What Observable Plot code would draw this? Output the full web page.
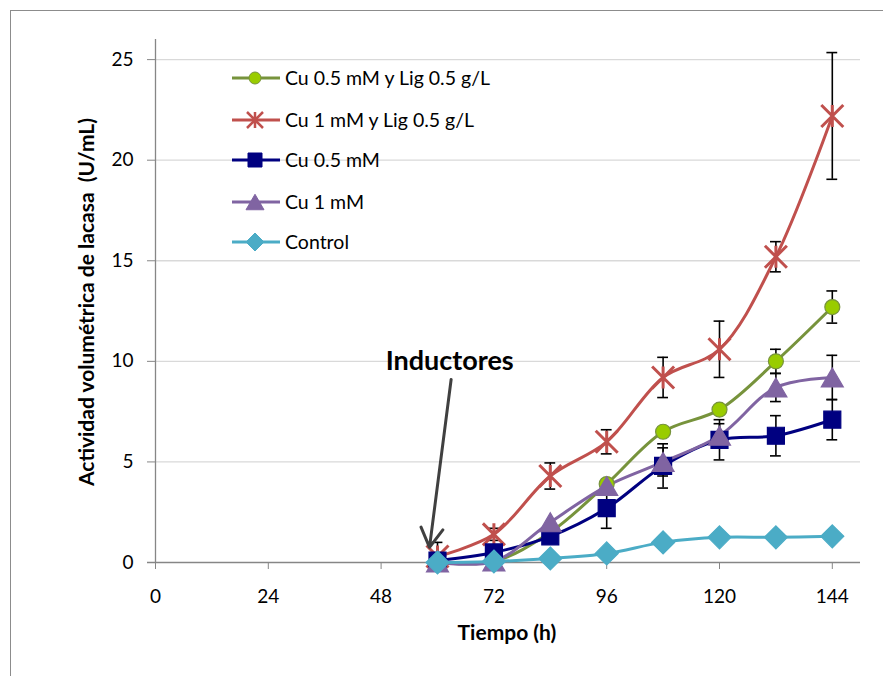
<!DOCTYPE html>
<html><head><meta charset="utf-8">
<script src="https://cdn.jsdelivr.net/npm/d3@7"></script>
<script src="https://cdn.jsdelivr.net/npm/@observablehq/plot@0.6"></script>
<style>
html,body{margin:0;padding:0;background:#fff;}
body{width:883px;height:676px;overflow:hidden;font-family:Lato,"Open Sans",sans-serif;}
#wrap{position:relative;width:883px;height:676px;}
#border{position:absolute;left:10px;top:10px;width:900px;height:700px;border:1px solid #8c8c8c;}
#chart{position:absolute;left:0;top:0;}
#overlay{position:absolute;left:0;top:0;pointer-events:none;}
</style></head><body>
<div id="wrap"><div id="border"></div><div id="chart"></div><svg id="overlay" width="883" height="676"></svg></div>
<script>
// ---- data ----
const hours = [60, 72, 84, 96, 108, 120, 132, 144];
const seriesNames = ["Cu 0.5 mM y Lig 0.5 g/L", "Cu 1 mM y Lig 0.5 g/L", "Cu 0.5 mM", "Cu 1 mM", "Control"];
const cu05Lig = [0.0, 0.05, 1.5, 3.9, 6.5, 7.6, 10.0, 12.7];
const cu05LigErr = [0, 0, 0, 0, 0, 0, 0.6, 0.8];
const cu1Lig = [0.3, 1.4, 4.3, 6.0, 9.2, 10.6, 15.2, 22.2];
const cu1LigErr = [0.7, 0.3, 0.65, 0.6, 1.0, 1.4, 0.75, 3.15];
const cu05 = [0.1, 0.5, 1.3, 2.7, 4.8, 6.1, 6.3, 7.1];
const cu05Err = [0, 0, 0, 1.0, 1.1, 1.0, 1.0, 1.0];
const cu1 = [0.0, 0.05, 2.0, 3.8, 5.0, 6.3, 8.7, 9.2];
const cu1Err = [0, 0, 0, 0, 0.7, 0.6, 0.7, 1.1];
const control = [0.0, 0.05, 0.2, 0.45, 1.0, 1.25, 1.25, 1.3];
const xTicks = [0, 24, 48, 72, 96, 120, 144];
const yTicks = [0, 5, 10, 15, 20, 25];
const annotation = {label: "Inductores", tx: 62.6, ty: 10.0, x1: 62.9, y1: 9.1, x2: 58.3, y2: 0.75};

// ---- styles ----
const lineColors = ["#77933C", "#C0504D", "#000080", "#8064A2", "#4BACC6"];
const markerFill = ["#99CC00", "none", "#000080", "#8064A2", "#4BACC6"];
const markerStroke = ["#77933C", "#C0504D", "#000080", "#8064A2", "#4BACC6"];
const markerR = [7.5, 11, 8.5, 11, 11.5];

const sq = {draw(c, s){const r = Math.sqrt(s/Math.PI); c.rect(-r,-r,2*r,2*r);}};
const tri = {draw(c, s){const r = Math.sqrt(s/Math.PI); const h = r*0.86; c.moveTo(0,-h); c.lineTo(r,h); c.lineTo(-r,h); c.closePath();}};
const dia = {draw(c, s){const r = Math.sqrt(s/Math.PI); c.moveTo(0,-r); c.lineTo(r,0); c.lineTo(0,r); c.lineTo(-r,0); c.closePath();}};
const star = {draw(c, s){const r = Math.sqrt(s/Math.PI); c.moveTo(-r,-r); c.lineTo(r,r); c.moveTo(r,-r); c.lineTo(-r,r); c.moveTo(0,-r); c.lineTo(0,r);}};
const symbols = ["circle", star, sq, tri, dia];

const values = [cu05Lig, cu1Lig, cu05, cu1, control];
const errs = [cu05LigErr, cu1LigErr, cu05Err, cu1Err, null];

const marks = [
  Plot.gridY(yTicks.filter(d => d > 0), {stroke: "#d9d9d9", strokeOpacity: 1, strokeWidth: 1.3}),
  Plot.ruleX([0], {stroke: "#868686", strokeWidth: 1.3}),
  Plot.ruleY([0], {x1: -1.7, x2: 150, stroke: "#868686", strokeWidth: 1.3}),
  Plot.axisY({ticks: yTicks, tickSize: 8, tickPadding: 14, fontSize: 19, stroke: "#868686", color: "#000", label: null, tickFormat: d3.format("d")}),
  Plot.axisX({ticks: xTicks, tickSize: 7, tickPadding: 20, fontSize: 19, stroke: "#868686", color: "#000", label: null, tickFormat: d3.format("d")}),
];

values.forEach((vals, i) => {
  const data = hours.map((h, j) => ({h, v: vals[j], e: errs[i] ? errs[i][j] : 0}));
  marks.push(Plot.line(data, {x: "h", y: "v", stroke: lineColors[i], strokeWidth: 3, curve: "catmull-rom"}));
});
values.forEach((vals, i) => {
  const data = hours.map((h, j) => ({h, v: vals[j], e: errs[i] ? errs[i][j] : 0})).filter(d => d.e > 0);
  marks.push(Plot.ruleX(data, {x: "h", y1: d => d.v - d.e, y2: d => d.v + d.e, stroke: "#000", strokeWidth: 1.6}));
  marks.push(Plot.ruleY(data, {y: d => d.v - d.e, x1: d => d.h - 1.15, x2: d => d.h + 1.15, stroke: "#000", strokeWidth: 1.6}));
  marks.push(Plot.ruleY(data, {y: d => d.v + d.e, x1: d => d.h - 1.15, x2: d => d.h + 1.15, stroke: "#000", strokeWidth: 1.6}));
});
values.forEach((vals, i) => {
  const data = hours.map((h, j) => ({h, v: vals[j]}));
  marks.push(Plot.dot(data, {x: "h", y: "v", symbol: () => symbols[i], r: markerR[i], fill: markerFill[i], stroke: markerStroke[i], strokeWidth: i === 1 ? 3 : 1.2}));
});
marks.push(Plot.arrow([annotation], {x1: "x1", y1: "y1", x2: "x2", y2: "y2", stroke: "#404040", strokeWidth: 3, headLength: 11, bend: 0}));
marks.push(Plot.text([annotation], {x: "tx", y: "ty", text: "label", fontSize: 27, fontWeight: "bold", fill: "#000"}));

const chart = Plot.plot({
  width: 883, height: 676,
  marginLeft: 155, marginRight: 23, marginTop: 39, marginBottom: 114,
  x: {domain: [0, 150]},
  y: {domain: [0, 26]},
  style: {fontFamily: "Lato, 'Open Sans', sans-serif", background: "transparent", overflow: "visible"},
  marks
});
document.getElementById("chart").appendChild(chart);

// ---- overlay: legend and axis titles ----
const ov = d3.select("#overlay");
const legY = [78, 120, 160, 202, 242];
const legSymSize = [6, 8, 7, 9, 9];
seriesNames.forEach((name, i) => {
  const g = ov.append("g").attr("transform", `translate(0,${legY[i]})`);
  g.append("line").attr("x1", 232).attr("x2", 280).attr("y1", 0).attr("y2", 0).attr("stroke", lineColors[i]).attr("stroke-width", 3);
  const symType = symbols[i] === "circle" ? d3.symbolCircle : symbols[i];
  g.append("path").attr("transform", "translate(255,0)")
    .attr("d", d3.symbol(symType, Math.PI * legSymSize[i] * legSymSize[i])())
    .attr("fill", markerFill[i]).attr("stroke", markerStroke[i]).attr("stroke-width", i === 1 ? 2.5 : 1);
  g.append("text").attr("x", 285).attr("y", 0).attr("dy", "0.35em").attr("font-size", 19.5)
    .attr("font-family", "Lato, 'Open Sans', sans-serif").attr("fill", "#000").text(name);
});
ov.append("text").attr("transform", "translate(94,302) rotate(-90)").attr("text-anchor", "middle")
  .attr("font-size", 21).attr("font-weight", "bold").attr("font-family", "Lato, 'Open Sans', sans-serif")
  .attr("xml:space", "preserve").style("white-space", "pre")
  .text("Actividad volumétrica de lacasa  (U/mL)");
ov.append("text").attr("x", 507).attr("y", 633).attr("dy", "0.35em").attr("text-anchor", "middle")
  .attr("font-size", 21).attr("font-weight", "bold").attr("font-family", "Lato, 'Open Sans', sans-serif")
  .text("Tiempo (h)");
</script>
</body></html>
